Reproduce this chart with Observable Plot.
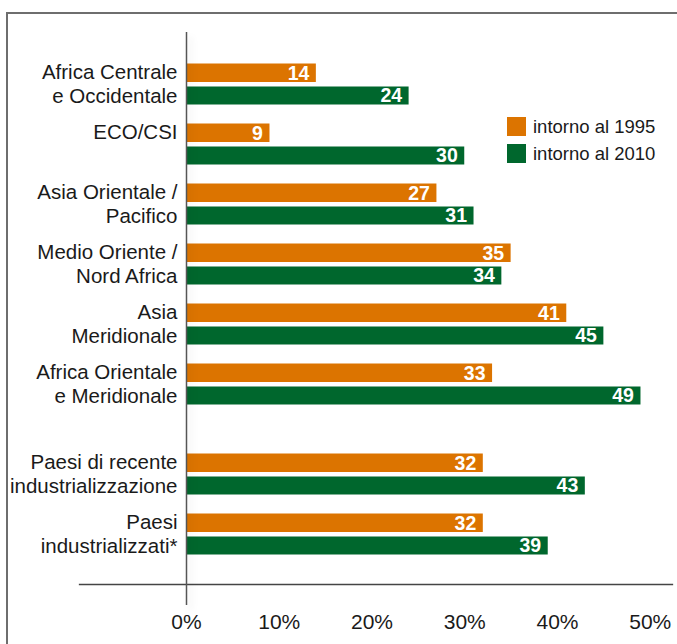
<!DOCTYPE html>
<html>
<head>
<meta charset="utf-8">
<script src="https://cdn.jsdelivr.net/npm/d3@7"></script>
<script src="https://cdn.jsdelivr.net/npm/@observablehq/plot@0.6"></script>
<style>
  body { margin: 0; background: #fff; font-family: "Liberation Sans", Arial, Helvetica, sans-serif; }
  #wrap { position: relative; width: 677px; height: 644px; overflow: hidden; }
  #frame { position: absolute; left: 6px; top: 12px; width: 800px; height: 800px; border-top: 2px solid #6e6e6e; border-left: 2px solid #6e6e6e; box-sizing: border-box; }
  #chart { position: absolute; left: 0; top: 0; }
  #legend { position: absolute; left: 507px; top: 117px; font-size: 18.5px; color: #1a1a1a; }
  .item { display: flex; align-items: center; height: 19px; margin-bottom: 8px; }
  .sw { width: 19px; height: 19px; margin-right: 7px; }
</style>
</head>
<body>
<div id="wrap">
  <div id="frame"></div>
  <div id="chart"></div>
  <div id="legend"></div>
</div>
<script>
const categories = [
  "Africa Centrale\ne Occidentale",
  "ECO/CSI",
  "Asia Orientale /\nPacifico",
  "Medio Oriente /\nNord Africa",
  "Asia\nMeridionale",
  "Africa Orientale\ne Meridionale",
  "Paesi di recente\nindustrializzazione",
  "Paesi\nindustrializzati*"
];
const values1995 = [14, 9, 27, 35, 41, 33, 32, 32];
const values2010 = [24, 30, 31, 34, 45, 49, 43, 39];
const seriesNames = ["intorno al 1995", "intorno al 2010"];
const seriesColors = ["#dc7400", "#00672d"];
const tickValues = [0, 10, 20, 30, 40, 50];
const tickLabels = ["0%", "10%", "20%", "30%", "40%", "50%"];
const gapAfter = "Africa Orientale\ne Meridionale";

// build table
const rows1995 = categories.map((c, i) => ({cat: c, key: c + "|1995", value: values1995[i]}));
const rows2010 = categories.map((c, i) => ({cat: c, key: c + "|2010", value: values2010[i]}));
const domain = [];
categories.forEach(c => {
  domain.push(c + "|1995", c + "|2010");
  if (c === gapAfter) domain.push("gap");
});

const font = "'Liberation Sans', Arial, Helvetica, sans-serif";

const plot = Plot.plot({
  width: 677,
  height: 644,
  marginTop: 32,
  marginLeft: 79,
  marginRight: 5,
  marginBottom: 60,
  style: {fontFamily: font, background: "transparent", overflow: "visible"},
  x: {domain: [0, 50], range: [186, 649.75], axis: null},
  y: {type: "band", domain, range: [53.5, 563.5], padding: 0, axis: null},
  marks: [
    Plot.frame({anchor: "bottom", stroke: "#444", strokeWidth: 1.3}),
    Plot.barX(rows1995, {x: "value", y: "key", fill: seriesColors[0], insetTop: 9.5, insetBottom: 2}),
    Plot.barX(rows2010, {x: "value", y: "key", fill: seriesColors[1], insetTop: 2.5, insetBottom: 9.5}),
    Plot.ruleX([0], {stroke: "#555", strokeWidth: 1.5, insetBottom: -21}),
    Plot.text(rows1995, {x: "value", y: "key", text: d => String(d.value), textAnchor: "end", dx: -7, dy: 3.8, fill: "white", fontWeight: "bold", fontSize: 19.5}),
    Plot.text(rows2010, {x: "value", y: "key", text: d => String(d.value), textAnchor: "end", dx: -7, dy: -3.5, fill: "white", fontWeight: "bold", fontSize: 19.5}),
    Plot.text(rows1995, {x: 0, y: "key", text: "cat", textAnchor: "end", dx: -9, lineAnchor: "top", dy: -8, lineHeight: 1.17, fontSize: 20.5, fill: "#1a1a1a"}),
    Plot.axisX(tickValues, {tickSize: 0, tickPadding: 30, tickFormat: (d) => tickLabels[tickValues.indexOf(d)], fontSize: 21, fill: "#1a1a1a", anchor: "bottom", label: null})
  ]
});

d3.select(plot).selectAll('g[aria-label="rule"], g[aria-label="frame"]')
  .style("filter", "drop-shadow(4px 5px 3px rgba(0,0,0,0.10))");

document.getElementById("chart").appendChild(plot);

const legend = d3.select("#legend");
seriesNames.forEach((s, i) => {
  const it = legend.append("div").attr("class", "item");
  it.append("div").attr("class", "sw").style("background", seriesColors[i]);
  it.append("span").text(s);
});
</script>
</body>
</html>
